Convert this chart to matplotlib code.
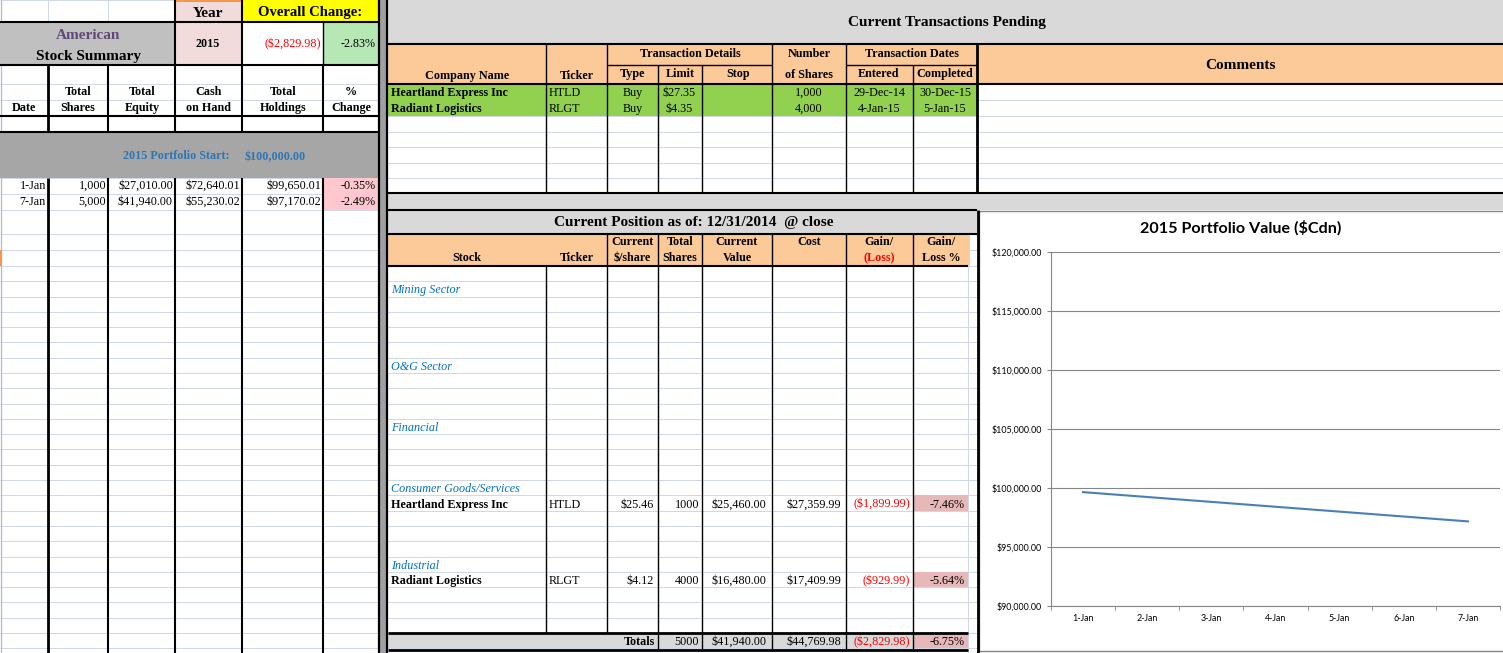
import matplotlib
matplotlib.use("Agg")
import matplotlib.pyplot as plt
from matplotlib.patches import Rectangle

# ---- data ----
summary_dates = ['1-Jan', '7-Jan']
summary_shares = [1000, 5000]
summary_equity = [27010.00, 41940.00]
summary_cash = [72640.01, 55230.02]
summary_holdings = [99650.01, 97170.02]
summary_pct = [-0.35, -2.49]
start_value = 100000.00
year = 2015
overall_change = -2829.98
overall_pct = -2.83

pend_names = ['Heartland Express Inc', 'Radiant Logistics']
pend_tickers = ['HTLD', 'RLGT']
pend_types = ['Buy', 'Buy']
pend_limits = [27.35, 4.35]
pend_shares = [1000, 4000]
pend_entered = ['29-Dec-14', '4-Jan-15']
pend_completed = ['30-Dec-15', '5-Jan-15']

sectors = ['Mining Sector', 'O&G Sector', 'Financial', 'Consumer Goods/Services', 'Industrial']
sector_rows = [1, 6, 10, 14, 19]
pos_names = ['Heartland Express Inc', 'Radiant Logistics']
pos_rows = [15, 20]
pos_tickers = ['HTLD', 'RLGT']
pos_price = [25.46, 4.12]
pos_shares = [1000, 4000]
pos_value = [25460.00, 16480.00]
pos_cost = [27359.99, 17409.99]
pos_gain = [-1899.99, -929.99]
pos_gain_pct = [-7.46, -5.64]
tot_shares = 5000
tot_value = 41940.00
tot_cost = 44769.98
tot_gain = -2829.98
tot_pct = -6.75

chart_days = ['1-Jan', '2-Jan', '3-Jan', '4-Jan', '5-Jan', '6-Jan', '7-Jan']
chart_ticks = [90000, 95000, 100000, 105000, 110000, 115000, 120000]


def money(v):
    if v < 0:
        return '(${:,.2f})'.format(-v)
    return '${:,.2f}'.format(v)


SERIF = 'Liberation Serif'
GRID = '#d0d7e5'
ORANGE = '#fcc998'
FS = 8.7
BIG = 11

fig = plt.figure(figsize=(15.03, 6.53), dpi=100)
ax = fig.add_axes([0, 0, 1, 1])
ax.set_xlim(0, 1503)
ax.set_ylim(653, 0)
ax.axis('off')


def rect(x0, y0, x1, y1, color, z=1):
    ax.add_patch(Rectangle((x0, y0), x1 - x0, y1 - y0, facecolor=color, edgecolor='none', zorder=z))


def hline(y, x0, x1, lw=1.5, c='black', z=3):
    ax.plot([x0, x1], [y, y], color=c, lw=lw, solid_capstyle='butt', zorder=z)


def vline(x, y0, y1, lw=1.5, c='black', z=3):
    ax.plot([x, x], [y0, y1], color=c, lw=lw, solid_capstyle='butt', zorder=z)


def txt(x, y, s, ha='center', size=FS, weight='normal', color='black', style='normal'):
    ax.text(x, y + 1.2, s, ha=ha, va='center', fontsize=size, family=SERIF, weight=weight,
            color=color, style=style, zorder=5)


def row_y(k):
    return 266 + k * 15.29


def row_mid(k):
    return row_y(k) + 8.0


# light gridlines of the sheet
rows = [0, 22, 44, 65, 84, 100, 116, 132, 147, 163, 178, 194, 210, 234, 250] + [row_y(k) for k in range(26)]
for y in rows:
    hline(y, 0, 977, lw=0.72, c=GRID, z=0.5)
for y in [100, 116, 132, 147, 163, 178]:
    hline(y, 977, 1503, lw=0.72, c=GRID, z=0.5)
vline(1, 0, 653, lw=0.9, c='#a9bcd5', z=0.5)
vline(48, 0, 22, lw=0.72, c=GRID, z=0.5)
vline(108, 0, 22, lw=0.72, c=GRID, z=0.5)
vline(968, 266, 653, lw=0.72, c=GRID, z=0.5)

# ---- left summary panel ----
rect(175, 0, 242, 65, '#f2dcdb')
rect(242, 0, 378, 22, '#ffff00')
rect(0, 22, 175, 65, '#c0c0c0')
rect(242, 22, 323, 65, 'white')
rect(323, 22, 378, 65, '#b6e8b6')
rect(0, 132, 378, 178, '#a6a6a6')
rect(323, 178, 378, 210, '#ffc7ce')
hline(0.8, 175, 242, lw=1.4, c='#f79646')
rect(0, 250, 2, 266, '#f79646', z=2)

for y in [22, 65, 116, 132]:
    hline(y, 0, 378)
vline(175, 0, 65)
vline(242, 0, 65)
vline(323, 22, 65, lw=1.0)
for x, lw in [(48, 2.0), (108, 1.5), (175, 1.5), (242, 1.5), (323, 1.5)]:
    vline(x, 65, 132, lw=lw)
    vline(x, 178, 653, lw=lw)

txt(208, 12, 'Year', size=BIG, weight='bold')
txt(310, 11, 'Overall Change:', size=10.5, weight='bold')
txt(88, 34, 'American', size=BIG, weight='bold', color='#60497a')
txt(88, 55, 'Stock Summary', size=BIG, weight='bold')
txt(208, 43, str(year), weight='bold')
txt(321, 43, money(overall_change), ha='right', color='#ff0000')
txt(376, 43, '{:.2f}%'.format(overall_pct), ha='right')

txt(24, 107, 'Date', weight='bold')
heads = [(78, 'Total', 'Shares'), (142, 'Total', 'Equity'), (209, 'Cash', 'on Hand'),
         (283, 'Total', 'Holdings'), (351, '%', 'Change')]
for x, a, b in heads:
    txt(x, 91, a, weight='bold')
    txt(x, 107, b, weight='bold')
txt(176, 155, '{} Portfolio Start:'.format(year), weight='bold', color='#2e75b6')
txt(275, 156, money(start_value), weight='bold', color='#2e75b6')

for i in range(len(summary_dates)):
    y = 185 + 16 * i
    txt(46, y, summary_dates[i], ha='right')
    txt(106, y, '{:,}'.format(summary_shares[i]), ha='right')
    txt(173, y, money(summary_equity[i]), ha='right')
    txt(240, y, money(summary_cash[i]), ha='right')
    txt(321, y, money(summary_holdings[i]), ha='right')
    txt(376, y, '{:.2f}%'.format(summary_pct[i]), ha='right')

# separator bar
rect(378, 0, 388, 653, '#a0a0a0', z=2)
vline(379, 0, 653, lw=1.6)
vline(387, 0, 653, lw=1.6)

# ---- pending transactions ----
rect(388, 0, 1503, 44, '#d9d9d9')
rect(388, 44, 1503, 84, ORANGE)
rect(388, 84, 977, 116, '#92d050')
rect(977, 84, 1503, 193, 'white', z=0.4)
rect(388, 193, 1503, 210, '#d9d9d9')

hline(44, 388, 1503)
hline(84, 388, 1503)
hline(193, 388, 1503)
for x in [546, 607, 772, 846]:
    vline(x, 44, 193, lw=1.0)
for x in [658, 702, 913]:
    vline(x, 65, 193, lw=1.0)
vline(977, 44, 193, lw=2.0)
hline(65, 607, 772, lw=1.0)
hline(65, 846, 977, lw=1.0)

txt(947, 21, 'Current Transactions Pending', size=BIG, weight='bold')
txt(1241, 64, 'Comments', size=BIG, weight='bold')
txt(467, 75, 'Company Name', weight='bold')
txt(577, 75, 'Ticker', weight='bold')
txt(690, 53, 'Transaction Details', weight='bold')
txt(633, 73, 'Type', weight='bold')
txt(680, 73, 'Limit', weight='bold')
txt(738, 73, 'Stop', weight='bold')
txt(809, 53, 'Number', weight='bold')
txt(809, 74, 'of Shares', weight='bold')
txt(912, 53, 'Transaction Dates', weight='bold')
txt(879, 73, 'Entered', weight='bold')
txt(945, 73, 'Completed', weight='bold')

for i in range(len(pend_names)):
    y = 91.5 + 16 * i
    txt(391, y, pend_names[i], ha='left', weight='bold')
    txt(549, y, pend_tickers[i], ha='left')
    txt(633, y, pend_types[i])
    txt(679, y, money(pend_limits[i]))
    txt(809, y, '{:,}'.format(pend_shares[i]))
    txt(879, y, pend_entered[i])
    txt(945, y, pend_completed[i])

# ---- current position table ----
rect(388, 210, 977, 234, '#d9d9d9')
rect(388, 234, 970, 266, ORANGE)
for k in pos_rows + [24]:
    rect(913, row_y(k), 968, row_y(k + 1), '#e6b8b7')
rect(388, row_y(24), 913, row_y(25), '#d9d9d9')

hline(210, 388, 977)
hline(234, 388, 977)
hline(266, 388, 968)
hline(row_y(24), 388, 968, lw=2.0)
hline(row_y(25) + 1.5, 388, 968, lw=2.0)
vline(546, 266, row_y(24), lw=1.0)
vline(607, 234, row_y(24), lw=1.0)
for x in [658, 702, 772, 846, 913]:
    vline(x, 234, row_y(25) + 1.5, lw=1.0)

txt(694, 221, 'Current Position as of: 12/31/2014  @ close', size=BIG, weight='bold')
txt(467, 257, 'Stock', weight='bold')
txt(577, 257, 'Ticker', weight='bold')
for x, a, b in [(632, 'Current', '$/share'), (680, 'Total', 'Shares'), (737, 'Current', 'Value'),
                (941, 'Gain/', 'Loss %')]:
    txt(x, 241, a, weight='bold')
    txt(x, 257, b, weight='bold')
txt(809, 241, 'Cost', weight='bold')
txt(879, 241, 'Gain/', weight='bold')
txt(879, 257, '(Loss)', weight='bold', color='#ff0000')

for s, k in zip(sectors, sector_rows):
    txt(391, row_mid(k), s, ha='left', style='italic', color='#0070c0', size=FS)

for i in range(len(pos_names)):
    y = row_mid(pos_rows[i])
    txt(391, y, pos_names[i], ha='left', weight='bold')
    txt(549, y, pos_tickers[i], ha='left')
    txt(654, y, money(pos_price[i]), ha='right')
    txt(699, y, str(pos_shares[i]), ha='right')
    txt(766, y, money(pos_value[i]), ha='right')
    txt(841, y, money(pos_cost[i]), ha='right')
    txt(910, y, money(pos_gain[i]), ha='right', color='#ff0000')
    txt(965, y, '{:.2f}%'.format(pos_gain_pct[i]), ha='right')

yt = row_mid(24)
txt(655, yt, 'Totals', ha='right', weight='bold')
txt(699, yt, str(tot_shares), ha='right')
txt(766, yt, money(tot_value), ha='right')
txt(841, yt, money(tot_cost), ha='right')
txt(910, yt, money(tot_gain), ha='right', color='#ff0000')
txt(965, yt, '{:.2f}%'.format(tot_pct), ha='right')

# ---- chart ----
ax.add_patch(Rectangle((979, 211), 530, 440, facecolor='white', edgecolor='#868686', lw=1.0, zorder=2))
vline(978, 210, 653, lw=2.0)
ax.text(1241, 228, '2015 Portfolio Value ($Cdn)', ha='center', va='center', fontsize=11.6,
        family='Lato', weight='bold', zorder=5)

W, H = 1503.0, 653.0
cax = fig.add_axes([1051 / W, (H - 606) / H, (1500 - 1051) / W, (606 - 252) / H])
cax.set_facecolor('white')
xpos = [chart_days.index(d) + 1 for d in summary_dates]
cax.plot(xpos, summary_holdings, color='#4a7ebb', lw=1.5, zorder=3)
cax.set_xlim(0.5, len(chart_days) + 0.5)
cax.set_ylim(chart_ticks[0], chart_ticks[-1])
cax.set_yticks(chart_ticks)
cax.set_yticklabels([money(v) for v in chart_ticks], fontsize=6.4, family='Lato')
cax.set_xticks(range(1, len(chart_days) + 1))
cax.set_xticklabels(chart_days, fontsize=6.4, family='Lato')
cax.set_xticks([i + 0.5 for i in range(len(chart_days) + 1)], minor=True)
cax.tick_params(axis='x', which='major', length=0, pad=6)
cax.tick_params(axis='x', which='minor', length=3, color='#868686')
cax.tick_params(axis='y', length=3, color='#868686', pad=3.5)
cax.grid(axis='y', color='#868686', lw=0.8)
cax.set_axisbelow(True)
for side in ['top', 'right']:
    cax.spines[side].set_visible(False)
for side in ['left', 'bottom']:
    cax.spines[side].set_color('#868686')
    cax.spines[side].set_linewidth(0.8)

fig.savefig('out.png', dpi=100)
